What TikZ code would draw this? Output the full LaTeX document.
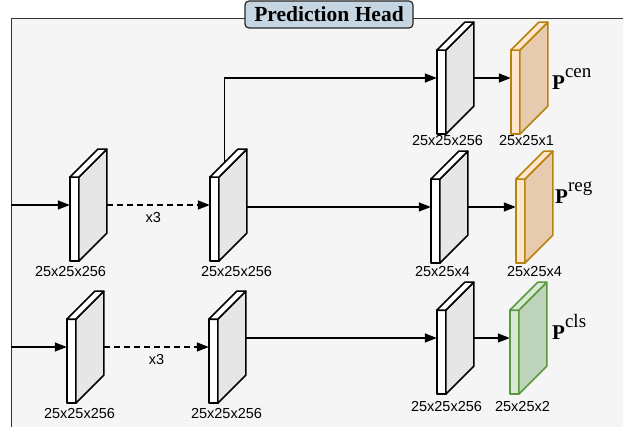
\documentclass[tikz,border=0pt]{standalone}
\usepackage{fontspec}
\setmainfont{Liberation Serif}
\setsansfont{Liberation Sans}
\usetikzlibrary{arrows.meta,positioning}

\definecolor{framefill}{HTML}{F5F5F5}
\definecolor{titlefill}{HTML}{C5D5E1}
\definecolor{sidegray}{HTML}{E6E6E6}
\definecolor{orangeline}{HTML}{B8820E}
\definecolor{orangefront}{HTML}{FFE6CC}
\definecolor{orangeside}{HTML}{E7CBAF}
\definecolor{greenline}{HTML}{5B9A3C}
\definecolor{greenfront}{HTML}{D8EAD6}
\definecolor{greenside}{HTML}{BED4BC}

\newcommand{\frontw}{9}
\newcommand{\fronth}{84}
\newcommand{\slabdepth}{28}
% draws the three faces of a feature map inside its node
\newcommand{\drawslab}[2]{%
    \draw[#2front] (#1.south west) rectangle ++(\frontw,-\fronth);
    \draw[#2side] (#1.south west) ++(\frontw,0) -- ++(0,-\fronth) -- ++(\slabdepth,-\slabdepth) -- ++(0,\fronth) -- cycle;
    \draw[#2top] (#1.south west) ++(0,-\fronth) -- ++(\slabdepth,-\slabdepth) -- ++(\frontw,0) -- ++(-\slabdepth,\slabdepth) -- cycle;
}
\newcommand{\plbl}[1]{\textbf{P}\raisebox{12pt}{\fontsize{19}{19}\selectfont #1}}

\tikzset{
    slab/.style = { rectangle, inner sep = 0pt,
        minimum width = 37pt,
        minimum height = 112pt
    },
    face/.style = { line width = 1.6pt, line join = round },
    gfront/.style = { face, draw = black, fill = white },
    gside/.style = { face, draw = black, fill = sidegray },
    gtop/.style = { face, draw = black, fill = white },
    ofront/.style = { face, draw = orangeline, fill = orangefront },
    oside/.style = { face, draw = orangeline, fill = orangeside },
    otop/.style = { face, draw = orangeline, fill = orangefront },
    cfront/.style = { face, draw = greenline, fill = greenfront },
    cside/.style = { face, draw = greenline, fill = greenside },
    ctop/.style = { face, draw = greenline, fill = greenfront },
    dim/.style = { font = \sffamily\fontsize{14.5}{16}\selectfont },
    plabel/.style = { anchor = base west, inner sep = 0pt,
        font = \fontsize{21}{23}\selectfont
    },
    title/.style = { draw = black!85, fill = titlefill, line width = 1.2pt,
        rounded corners = 4pt, inner sep = 0pt,
        minimum width = 168pt, minimum height = 27pt,
        font = \bfseries\fontsize{21.5}{24}\selectfont
    },
    frame/.style = { line width = 1pt, draw = black!80 },
    arrow/.style = { line width = 1.4pt, -{Triangle[length=12pt,width=9pt]} },
    darrow/.style = { arrow, dash pattern = on 6pt off 4pt }
}

\begin{document}
\begin{tikzpicture}[x=1pt, y=-1pt]
    \useasboundingbox[fill=white] (0,0) rectangle (623,427);

    % frame...
    \fill[framefill] (11,19) rectangle (623,427);
    \draw[frame] (623,19) -- (11,19) -- (11,427);
    \node[title] (head) at (329,14.5) {Prediction Head};
    \coordinate (edge) at (11,0);

    % upper branch...
    \node[slab] (a1) at (88.5,205) [label={[dim, xshift=-18pt, label distance=2pt]below:25x25x256}] {};
    \node[slab] (a2) at (228.5,205) [label={[dim, xshift=8pt, label distance=2pt]below:25x25x256}] {};
    \node[slab] (cen) at (455.5,78) [label={[dim, xshift=-8pt, label distance=-2pt]below:25x25x256}] {};
    \node[slab] (pcen) at (529.5,78) [label={[dim, xshift=-3pt, label distance=-2pt]below:25x25x1}] {};
    \node[slab] (reg) at (449.5,207) [label={[dim, xshift=-7pt, label distance=0pt]below:25x25x4}] {};
    \node[slab] (preg) at (534.5,207) [label={[dim, label distance=0pt]below:25x25x4}] {};
    % lower branch...
    \node[slab] (b1) at (85.5,347) [label={[dim, xshift=-6pt, label distance=2pt]below:25x25x256}] {};
    \node[slab] (b2) at (227.5,347) [label={[dim, xshift=-1pt, label distance=2pt]below:25x25x256}] {};
    \node[slab] (cls) at (455.5,338) [label={[dim, xshift=-9pt, label distance=4pt]below:25x25x256}] {};
    \node[slab] (pcls) at (528.5,338) [label={[dim, xshift=-6pt, label distance=4pt]below:25x25x2}] {};

    \node[plabel] (tcen) at (552,90) {\plbl{cen}};
    \node[plabel] (treg) at (555,204) {\plbl{reg}};
    \node[plabel] (tcls) at (552,339) {\plbl{cls}};

    % arrows...
    \draw[arrow] (edge |- a1.west) -- (a1.west);
    \draw[darrow] (a1.east) -- node[dim, below=3pt, pos=0.45] (rep1) {x3} (a2.west);
    \draw[arrow] ([xshift=-4pt, yshift=-13pt]a2.north) |- (cen.west);
    \draw[arrow] (a2.east |- reg.west) -- (reg.west);
    \draw[arrow] (cen.east) -- (pcen.west);
    \draw[arrow] (reg.east) -- (preg.west);
    \draw[arrow] (edge |- b1.west) -- (b1.west);
    \draw[darrow] (b1.east) -- node[dim, below=3pt] (rep2) {x3} (b2.west);
    \draw[arrow] (b2.east |- cls.west) -- (cls.west);
    \draw[arrow] (cls.east) -- (pcls.west);

    % feature maps...
    \foreach \m in {a1,a2,cen,reg,b1,b2,cls} {\drawslab{\m}{g}}
    \drawslab{pcen}{o}
    \drawslab{preg}{o}
    \drawslab{pcls}{c}
\end{tikzpicture}
\end{document}
